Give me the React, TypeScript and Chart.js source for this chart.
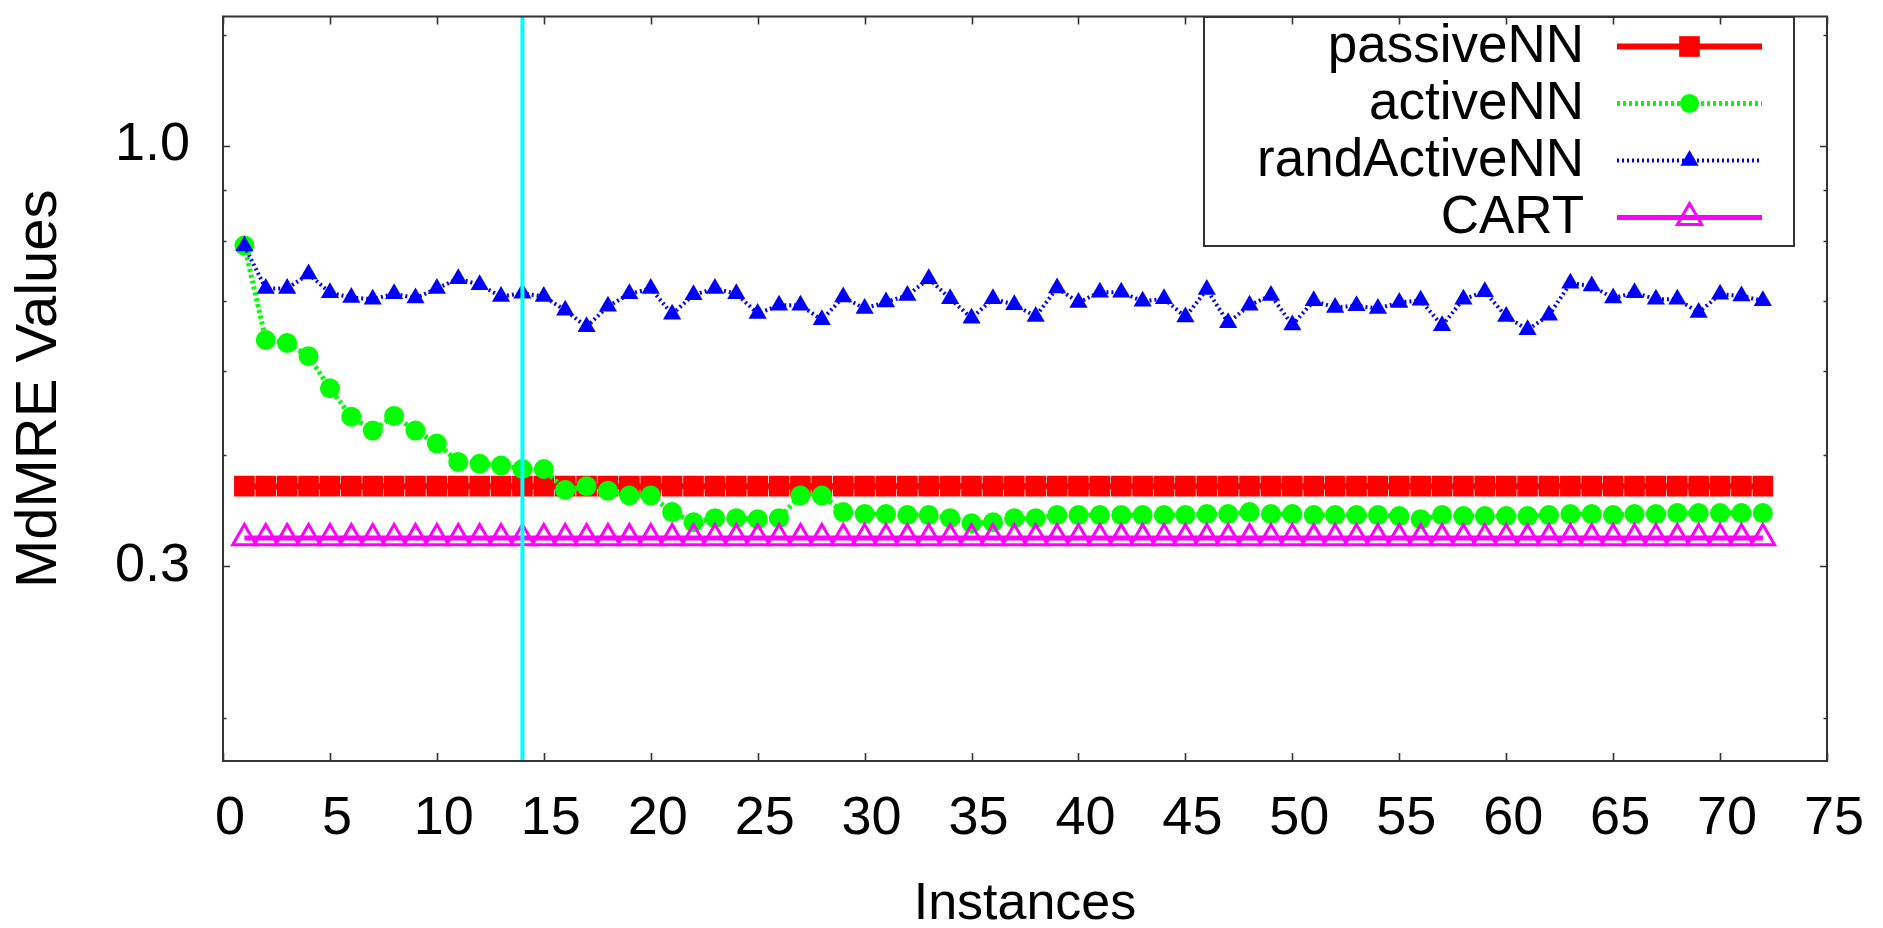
import React, { useEffect, useRef } from 'react';
import { Chart, registerables } from 'chart.js';
import { drawPoint } from 'chart.js/helpers';

Chart.register(...registerables);

// ---------- data ----------
const instances = [
  1, 2, 3, 4, 5, 6, 7, 8, 9, 10, 11, 12, 13, 14, 15, 16, 17, 18, 19, 20, 21, 22, 23, 24,
  25, 26, 27, 28, 29, 30, 31, 32, 33, 34, 35, 36, 37, 38, 39, 40, 41, 42, 43, 44, 45, 46, 47, 48,
  49, 50, 51, 52, 53, 54, 55, 56, 57, 58, 59, 60, 61, 62, 63, 64, 65, 66, 67, 68, 69, 70, 71, 72,
];

const passiveNN = [
  0.377, 0.377, 0.377, 0.377, 0.377, 0.377, 0.377, 0.377, 0.377, 0.377, 0.377, 0.377,
  0.377, 0.377, 0.377, 0.377, 0.377, 0.377, 0.377, 0.377, 0.377, 0.377, 0.377, 0.377,
  0.377, 0.377, 0.377, 0.377, 0.377, 0.377, 0.377, 0.377, 0.377, 0.377, 0.377, 0.377,
  0.377, 0.377, 0.377, 0.377, 0.377, 0.377, 0.377, 0.377, 0.377, 0.377, 0.377, 0.377,
  0.377, 0.377, 0.377, 0.377, 0.377, 0.377, 0.377, 0.377, 0.377, 0.377, 0.377, 0.377,
  0.377, 0.377, 0.377, 0.377, 0.377, 0.377, 0.377, 0.377, 0.377, 0.377, 0.377, 0.377,
];

const activeNN = [
  0.751, 0.573, 0.568, 0.547, 0.499, 0.46, 0.442, 0.461, 0.442, 0.426,
  0.404, 0.402, 0.4, 0.396, 0.396, 0.373, 0.377, 0.372, 0.367, 0.367,
  0.35, 0.34, 0.344, 0.344, 0.343, 0.344, 0.367, 0.367, 0.35, 0.348,
  0.348, 0.347, 0.347, 0.344, 0.339, 0.34, 0.344, 0.344, 0.347, 0.347,
  0.347, 0.347, 0.347, 0.347, 0.347, 0.348, 0.348, 0.35, 0.348, 0.348,
  0.347, 0.347, 0.347, 0.347, 0.346, 0.343, 0.347, 0.346, 0.346, 0.346,
  0.346, 0.347, 0.348, 0.348, 0.347, 0.348, 0.348, 0.349, 0.349, 0.349, 0.349, 0.349,
];

const randActiveNN = [
  0.75, 0.664, 0.664, 0.692, 0.656, 0.647, 0.644, 0.654, 0.646, 0.664,
  0.683, 0.671, 0.649, 0.655, 0.649, 0.624, 0.595, 0.631, 0.654, 0.664,
  0.617, 0.652, 0.664, 0.654, 0.618, 0.633, 0.633, 0.607, 0.648, 0.627,
  0.639, 0.651, 0.683, 0.645, 0.61, 0.645, 0.634, 0.613, 0.665, 0.638,
  0.657, 0.657, 0.64, 0.645, 0.612, 0.662, 0.602, 0.633, 0.651, 0.598,
  0.641, 0.629, 0.632, 0.627, 0.638, 0.642, 0.597, 0.644, 0.658, 0.613,
  0.59, 0.615, 0.674, 0.669, 0.646, 0.656, 0.644, 0.644, 0.62, 0.653, 0.65, 0.641,
];

const cart = [
  0.325, 0.325, 0.325, 0.325, 0.325, 0.325, 0.325, 0.325, 0.325, 0.325, 0.325, 0.325,
  0.325, 0.325, 0.325, 0.325, 0.325, 0.325, 0.325, 0.325, 0.325, 0.325, 0.325, 0.325,
  0.325, 0.325, 0.325, 0.325, 0.325, 0.325, 0.325, 0.325, 0.325, 0.325, 0.325, 0.325,
  0.325, 0.325, 0.325, 0.325, 0.325, 0.325, 0.325, 0.325, 0.325, 0.325, 0.325, 0.325,
  0.325, 0.325, 0.325, 0.325, 0.325, 0.325, 0.325, 0.325, 0.325, 0.325, 0.325, 0.325,
  0.325, 0.325, 0.325, 0.325, 0.325, 0.325, 0.325, 0.325, 0.325, 0.325, 0.325, 0.325,
];

const markerInstance = 14;

const xMin = 0;
const xMax = 75;
const xStep = 5;
const yMin = 0.1716;
const yMax = 1.447;
const yMajorTicks = [1.0, 0.3];
const yMinorTicks = [1.374, 0.881, 0.76, 0.64, 0.525, 0.412, 0.194];

const FONT = "'Liberation Sans', Arial, Helvetica, sans-serif";

const toPoints = (vals: number[]) => instances.map((x, i) => ({ x, y: vals[i] }));

// ---------- plugins ----------
const framePlugin = {
  id: 'gnuplotFrame',
  afterDatasetsDraw(chart: any) {
    const { ctx, chartArea, scales } = chart;
    const { left, right, top, bottom } = chartArea;
    const xs = scales.x;
    const ys = scales.y;
    ctx.save();
    ctx.strokeStyle = '#333333';
    ctx.lineWidth = 1.6;
    ctx.beginPath();
    for (let v = xMin; v <= xMax; v += xStep) {
      const px = Math.round(xs.getPixelForValue(v)) + 0.5;
      ctx.moveTo(px, bottom);
      ctx.lineTo(px, bottom - 8);
      ctx.moveTo(px, top);
      ctx.lineTo(px, top + 8);
    }
    for (const v of yMajorTicks) {
      const py = Math.round(ys.getPixelForValue(v)) + 0.5;
      ctx.moveTo(left, py);
      ctx.lineTo(left + 7, py);
      ctx.moveTo(right, py);
      ctx.lineTo(right - 7, py);
    }
    for (const v of yMinorTicks) {
      const py = Math.round(ys.getPixelForValue(v)) + 0.5;
      ctx.moveTo(left, py);
      ctx.lineTo(left + 3.5, py);
      ctx.moveTo(right, py);
      ctx.lineTo(right - 3.5, py);
    }
    ctx.stroke();
    ctx.lineWidth = 2;
    ctx.strokeRect(left, top, right - left, bottom - top);
    ctx.restore();
  },
};

const legendPlugin = {
  id: 'gnuplotLegend',
  afterDraw(chart: any) {
    const { ctx } = chart;
    const boxL = 1204, boxT = 17, boxR = 1794, boxB = 246;
    const rowY0 = 46.5, rowStep = 57;
    const textRight = 1584;
    const lineL = 1617, lineR = 1762;
    const markX = 1689.5;
    ctx.save();
    ctx.strokeStyle = '#333333';
    ctx.lineWidth = 2;
    ctx.strokeRect(boxL, boxT, boxR - boxL, boxB - boxT);
    const items = chart.data.datasets.filter((d: any) => d.label);
    items.forEach((d: any, i: number) => {
      const y = rowY0 + i * rowStep;
      ctx.font = `53px ${FONT}`;
      ctx.fillStyle = '#000';
      ctx.textAlign = 'right';
      ctx.textBaseline = 'middle';
      ctx.fillText(d.label, textRight, y + 1);
      ctx.save();
      ctx.strokeStyle = d.borderColor;
      ctx.lineWidth = d.borderWidth;
      ctx.setLineDash(d.borderDash || []);
      ctx.beginPath();
      ctx.moveTo(lineL, y);
      ctx.lineTo(lineR, y);
      ctx.stroke();
      ctx.restore();
      ctx.save();
      ctx.fillStyle = d.pointBackgroundColor;
      ctx.strokeStyle = d.pointBorderColor;
      ctx.lineWidth = d.pointBorderWidth;
      drawPoint(ctx, {
        pointStyle: d.pointStyle,
        radius: d.legendRadius || d.pointRadius,
        borderWidth: d.pointBorderWidth,
        rotation: 0,
      } as any, markX, y);
      ctx.restore();
    });
    ctx.restore();
  },
};

export default function App() {
  const canvasRef = useRef<HTMLCanvasElement | null>(null);

  useEffect(() => {
    const canvas = canvasRef.current;
    if (!canvas) return;
    Chart.defaults.font.family = FONT;
    const chart = new Chart(canvas, {
      type: 'line',
      data: {
        datasets: [
          {
            data: [
              { x: markerInstance, y: yMin },
              { x: markerInstance, y: yMax },
            ],
            borderColor: '#00ffff',
            borderWidth: 4,
            pointRadius: 0,
            order: 1,
          } as any,
          {
            label: 'passiveNN',
            data: toPoints(passiveNN),
            borderColor: '#ff0000',
            backgroundColor: '#ff0000',
            borderWidth: 6,
            pointStyle: 'rect',
            pointRadius: 14.6,
            legendRadius: 14.6,
            pointBackgroundColor: '#ff0000',
            pointBorderColor: '#ff0000',
            pointBorderWidth: 0,
            order: 5,
          },
          {
            label: 'activeNN',
            data: toPoints(activeNN),
            borderColor: '#00ff00',
            backgroundColor: '#00ff00',
            borderWidth: 5,
            borderDash: [3, 3],
            pointStyle: 'circle',
            pointRadius: 10,
            legendRadius: 9.5,
            pointBackgroundColor: '#00ff00',
            pointBorderColor: '#00ff00',
            pointBorderWidth: 0,
            order: 4,
          },
          {
            label: 'randActiveNN',
            data: toPoints(randActiveNN),
            borderColor: '#0000ff',
            backgroundColor: '#0000ff',
            borderWidth: 4,
            borderDash: [2, 3],
            pointStyle: 'triangle',
            pointRadius: 10.5,
            legendRadius: 10.5,
            pointBackgroundColor: '#0000ff',
            pointBorderColor: '#0000ff',
            pointBorderWidth: 0,
            order: 3,
          },
          {
            label: 'CART',
            data: toPoints(cart),
            borderColor: '#ff00ff',
            backgroundColor: '#ff00ff',
            borderWidth: 5,
            pointStyle: 'triangle',
            pointRadius: 13.5,
            legendRadius: 14,
            pointBackgroundColor: 'rgba(255,0,255,0)',
            pointBorderColor: '#ff00ff',
            pointBorderWidth: 3,
            order: 2,
          },
        ] as any,
      },
      options: {
        responsive: false,
        maintainAspectRatio: false,
        devicePixelRatio: 1,
        animation: false,
        events: [],
        layout: { padding: { left: 0, right: 56, top: 11, bottom: 0 } },
        elements: { line: { tension: 0 } },
        plugins: {
          legend: { display: false },
          tooltip: { enabled: false },
        },
        scales: {
          x: {
            type: 'linear',
            min: xMin,
            max: xMax,
            grid: { display: false, drawTicks: false },
            border: { display: false },
            ticks: {
              stepSize: xStep,
              autoSkip: false,
              maxRotation: 0,
              padding: 26,
              labelOffset: 7,
              color: '#000',
              font: { size: 54, family: FONT },
            },
            title: {
              display: true,
              text: 'Instances',
              color: '#000',
              font: { size: 52, family: FONT, lineHeight: 0.9 },
              padding: { top: 0, bottom: 0 },
            },
            afterFit: (s: any) => {
              s.height = 167;
              s.paddingLeft = 0;
              s.paddingRight = 0;
            },
          },
          y: {
            type: 'logarithmic',
            min: yMin,
            max: yMax,
            grid: { display: false, drawTicks: false },
            border: { display: false },
            afterBuildTicks: (s: any) => {
              s.ticks = yMajorTicks.map((v) => ({ value: v }));
            },
            ticks: {
              padding: 33,
              color: '#000',
              font: { size: 54, family: FONT },
              callback: (v: any) => Number(v).toFixed(1),
            },
            title: {
              display: true,
              text: 'MdMRE Values',
              color: '#000',
              font: { size: 58, family: FONT },
              padding: { top: 5, bottom: 0 },
            },
            afterFit: (s: any) => {
              s.width = 223;
              s.paddingTop = 0;
              s.paddingBottom = 0;
            },
          },
        },
      } as any,
      plugins: [framePlugin, legendPlugin],
    });
    return () => chart.destroy();
  }, []);

  return (
    <div style={{ position: 'fixed', left: 0, top: 0, width: 1883, height: 928, background: '#fff' }}>
      <canvas ref={canvasRef} width={1883} height={928} style={{ display: 'block' }} />
    </div>
  );
}
